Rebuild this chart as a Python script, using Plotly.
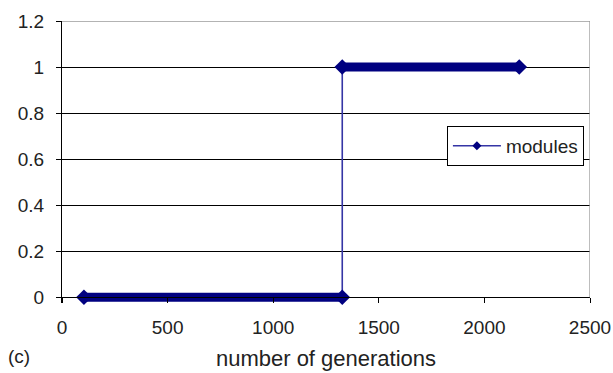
import plotly.graph_objects as go

# Data
generations = [104, 1327, 1327, 2165]
modules = [0, 0, 1, 1]
series_name = "modules"
x_ticks = [0, 500, 1000, 1500, 2000, 2500]
y_ticks = [0, 0.2, 0.4, 0.6, 0.8, 1, 1.2]
y_tick_labels = ["0", "0.2", "0.4", "0.6", "0.8", "1", "1.2"]
x_title = "number of generations"
panel_label = "(c)"

NAVY = "#000080"
FONT = "Liberation Sans, Arial, sans-serif"
TXT = "#222222"

low_x = [g for g, v in zip(generations, modules) if v == 0]
low_y = [v for v in modules if v == 0]
high_x = [g for g, v in zip(generations, modules) if v == 1]
high_y = [v for v in modules if v == 1]

fig = go.Figure()
# thin connecting line (legend entry)
fig.add_trace(go.Scatter(
    x=generations, y=modules, name=series_name, mode="lines+markers",
    line=dict(color="#3535a5", width=1.6),
    marker=dict(symbol="diamond", size=7, color=NAVY),
    showlegend=True, cliponaxis=False,
))
# dense marker bands
for bx, by in [(low_x, low_y), (high_x, high_y)]:
    fig.add_trace(go.Scatter(
        x=bx, y=by, mode="lines+markers", showlegend=False,
        line=dict(color=NAVY, width=9),
        marker=dict(symbol="diamond", size=12, color=NAVY),
        cliponaxis=False, hoverinfo="skip",
    ))

yr = [-0.025, 1.2]
fig.update_layout(
    width=613, height=373,
    margin=dict(l=62, r=23, t=21, b=70, autoexpand=False),
    paper_bgcolor="white", plot_bgcolor="white",
    font=dict(family=FONT, size=19, color=TXT),
    xaxis=dict(
        range=[0, 2500], tickvals=x_ticks, ticktext=[str(t) for t in x_ticks],
        showgrid=False, zeroline=False, showline=True, linecolor="black", linewidth=1.3,
        ticks="outside", ticklen=5, tickcolor="black",
        anchor="free", position=(0 - yr[0]) / (yr[1] - yr[0]),
        ticklabelstandoff=8, automargin=False,
        title=dict(text=x_title, standoff=13, font=dict(size=22)),
    ),
    yaxis=dict(
        range=yr, tickvals=y_ticks, ticktext=y_tick_labels,
        showgrid=True, gridcolor="black", gridwidth=1.3, zeroline=False,
        showline=True, linecolor="black", linewidth=1.3,
        ticks="outside", ticklen=5, tickcolor="black",
        ticklabelstandoff=8, automargin=False,
    ),
    legend=dict(
        x=0.729, y=0.628, xanchor="left", yanchor="top",
        bordercolor="black", borderwidth=1, bgcolor="white",
        font=dict(size=19), tracegroupgap=0, itemwidth=48,
    ),
    showlegend=True,
)
# grey plot-area border (top and right)
fig.add_shape(type="path", path="M 0,1.2 L 2500,1.2 L 2500,0", xref="x", yref="y",
              line=dict(color="#9a9a9a", width=1.3), layer="above")
fig.add_annotation(text=panel_label, xref="paper", yref="paper", x=-0.081, y=-0.19,
                   showarrow=False, xanchor="center", yanchor="middle",
                   font=dict(size=19, color=TXT))

fig.write_html("out.html", post_script="document.body.style.margin='0';",
               config={"displayModeBar": False})
